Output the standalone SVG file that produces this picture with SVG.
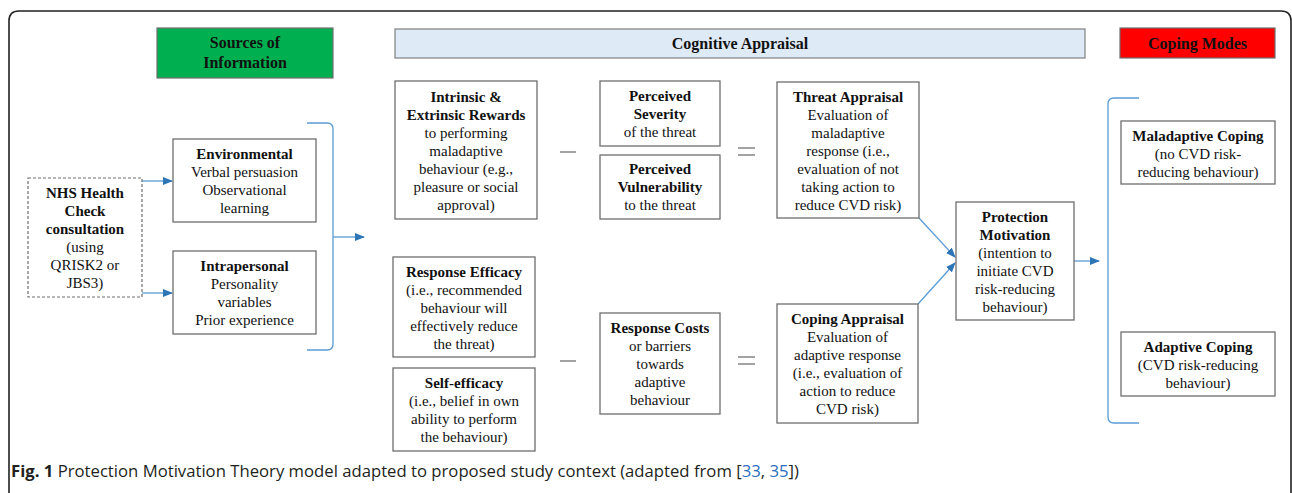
<svg xmlns="http://www.w3.org/2000/svg" width="1292" height="493" viewBox="0 0 1292 493">
<defs>
<marker id="ah" markerWidth="10" markerHeight="8" refX="9" refY="4" orient="auto" markerUnits="userSpaceOnUse">
<path d="M0,0 L10,4 L0,8 z" fill="#2E75B6"/>
</marker>
<style>
.box{fill:#fff;stroke:#6e6e6e;stroke-width:1.3}
.t{font-size:15px;fill:#111;text-anchor:middle}
.b{font-weight:bold}
.h{font-size:16px;font-weight:bold;fill:#111;text-anchor:middle}
.con{fill:none;stroke:#5B9BD5;stroke-width:1.3}
.op{stroke:#666;stroke-width:1.2}
.cap{font-size:16.7px;fill:#231f20}
</style>
</defs>
<rect width="1292" height="493" fill="#fff"/>
<path d="M9,493 V21 Q9,11 19,11 H1281 Q1291,11 1291,21 V493" fill="none" stroke="#222" stroke-width="1.6"/>

<g id="diagram" font-family="'Liberation Serif', 'DejaVu Serif', 'Times New Roman', serif">
<g id="hdr-sources">
<rect x="157" y="28" width="176" height="50" fill="#00B050" stroke="#6e6e6e" stroke-width="1.2"/>
<text class="h" x="245" y="48">Sources of</text>
<text class="h" x="245" y="68">Information</text>
</g>
<g id="hdr-cognitive">
<rect x="395" y="29" width="690" height="29" fill="#DEEAF6" stroke="#7f7f7f" stroke-width="1.2"/>
<text class="h" x="740" y="49">Cognitive Appraisal</text>
</g>
<g id="hdr-coping">
<rect x="1120" y="28" width="155" height="30" fill="#FF0000" stroke="#6e6e6e" stroke-width="1.2"/>
<text class="h" x="1197.5" y="49">Coping Modes</text>
</g>

<g id="connectors">
<line class="con" x1="142" y1="181" x2="172" y2="181" marker-end="url(#ah)"/>
<line class="con" x1="142" y1="293" x2="172" y2="293" marker-end="url(#ah)"/>
<path class="con" d="M307,123 H327 Q333,123 333,129 V344 Q333,350 327,350 H307"/>
<line class="con" x1="333" y1="237" x2="364" y2="237" marker-end="url(#ah)"/>
<line class="con" x1="919" y1="218" x2="955" y2="257" marker-end="url(#ah)"/>
<line class="con" x1="918" y1="304" x2="955" y2="263" marker-end="url(#ah)"/>
<line class="con" x1="1074" y1="261" x2="1099" y2="261" marker-end="url(#ah)"/>
<path class="con" d="M1139,98 H1114 Q1108,98 1108,104 V417 Q1108,423 1114,423 H1139"/>
<line class="op" x1="560" y1="152" x2="576" y2="152"/>
<line class="op" x1="738" y1="148" x2="755" y2="148"/>
<line class="op" x1="738" y1="155" x2="755" y2="155"/>
<line class="op" x1="560" y1="361" x2="576" y2="361"/>
<line class="op" x1="738" y1="357" x2="755" y2="357"/>
<line class="op" x1="738" y1="364" x2="755" y2="364"/>
</g>

<g id="nhs">
<rect x="28" y="178" width="114" height="119" fill="#fff" stroke="#6e6e6e" stroke-width="1.2" stroke-dasharray="3,2"/>
<text class="t b" x="85" y="198">NHS Health</text>
<text class="t b" x="85" y="216">Check</text>
<text class="t b" x="85" y="234">consultation</text>
<text class="t" x="85" y="252">(using</text>
<text class="t" x="85" y="270">QRISK2 or</text>
<text class="t" x="85" y="288">JBS3)</text>
</g>

<g id="environmental">
<rect class="box" x="173" y="139" width="143" height="83"/>
<text class="t b" x="244.5" y="159">Environmental</text>
<text class="t" x="244.5" y="177">Verbal persuasion</text>
<text class="t" x="244.5" y="195">Observational</text>
<text class="t" x="244.5" y="213">learning</text>
</g>

<g id="intrapersonal">
<rect class="box" x="173" y="251" width="143" height="83"/>
<text class="t b" x="244.5" y="271">Intrapersonal</text>
<text class="t" x="244.5" y="289">Personality</text>
<text class="t" x="244.5" y="307">variables</text>
<text class="t" x="244.5" y="325">Prior experience</text>
</g>

<g id="rewards">
<rect class="box" x="395" y="81" width="142" height="138"/>
<text class="t b" x="466" y="102">Intrinsic &amp;</text>
<text class="t b" x="466" y="120">Extrinsic Rewards</text>
<text class="t" x="466" y="138">to performing</text>
<text class="t" x="466" y="156">maladaptive</text>
<text class="t" x="466" y="174">behaviour (e.g.,</text>
<text class="t" x="466" y="192">pleasure or social</text>
<text class="t" x="466" y="210">approval)</text>
</g>

<g id="severity">
<rect class="box" x="600" y="81" width="120" height="65"/>
<text class="t b" x="660" y="101">Perceived</text>
<text class="t b" x="660" y="119">Severity</text>
<text class="t" x="660" y="137">of the threat</text>
</g>

<g id="vulnerability">
<rect class="box" x="600" y="155" width="120" height="64"/>
<text class="t b" x="660" y="174">Perceived</text>
<text class="t b" x="660" y="192">Vulnerability</text>
<text class="t" x="660" y="210">to the threat</text>
</g>

<g id="threat">
<rect class="box" x="777" y="82" width="142" height="136"/>
<text class="t b" x="848" y="102">Threat Appraisal</text>
<text class="t" x="848" y="120">Evaluation of</text>
<text class="t" x="848" y="138">maladaptive</text>
<text class="t" x="848" y="156">response (i.e.,</text>
<text class="t" x="848" y="174">evaluation of not</text>
<text class="t" x="848" y="192">taking action to</text>
<text class="t" x="848" y="210">reduce CVD risk)</text>
</g>

<g id="protection">
<rect class="box" x="956" y="202" width="118" height="118"/>
<text class="t b" x="1015" y="222">Protection</text>
<text class="t b" x="1015" y="240">Motivation</text>
<text class="t" x="1015" y="258">(intention to</text>
<text class="t" x="1015" y="276">initiate CVD</text>
<text class="t" x="1015" y="294">risk-reducing</text>
<text class="t" x="1015" y="312">behaviour)</text>
</g>

<g id="efficacy">
<rect class="box" x="393" y="257" width="142" height="100"/>
<text class="t b" x="464" y="277">Response Efficacy</text>
<text class="t" x="464" y="295">(i.e., recommended</text>
<text class="t" x="464" y="313">behaviour will</text>
<text class="t" x="464" y="331">effectively reduce</text>
<text class="t" x="464" y="349">the threat)</text>
</g>

<g id="selfefficacy">
<rect class="box" x="393" y="368" width="142" height="83"/>
<text class="t b" x="464" y="388">Self-efficacy</text>
<text class="t" x="464" y="406">(i.e., belief in own</text>
<text class="t" x="464" y="424">ability to perform</text>
<text class="t" x="464" y="442">the behaviour)</text>
</g>

<g id="costs">
<rect class="box" x="600" y="313" width="120" height="101"/>
<text class="t b" x="660" y="333">Response Costs</text>
<text class="t" x="660" y="351">or barriers</text>
<text class="t" x="660" y="369">towards</text>
<text class="t" x="660" y="387">adaptive</text>
<text class="t" x="660" y="405">behaviour</text>
</g>

<g id="copingappraisal">
<rect class="box" x="777" y="304" width="141" height="119"/>
<text class="t b" x="847.5" y="324">Coping Appraisal</text>
<text class="t" x="847.5" y="342">Evaluation of</text>
<text class="t" x="847.5" y="360">adaptive response</text>
<text class="t" x="847.5" y="378">(i.e., evaluation of</text>
<text class="t" x="847.5" y="396">action to reduce</text>
<text class="t" x="847.5" y="414">CVD risk)</text>
</g>

<g id="maladaptive">
<rect class="box" x="1121" y="121" width="154" height="63"/>
<text class="t b" x="1198" y="141">Maladaptive Coping</text>
<text class="t" x="1198" y="159">(no CVD risk-</text>
<text class="t" x="1198" y="177">reducing behaviour)</text>
</g>

<g id="adaptive">
<rect class="box" x="1121" y="332" width="154" height="64"/>
<text class="t b" x="1198" y="352">Adaptive Coping</text>
<text class="t" x="1198" y="370">(CVD risk-reducing</text>
<text class="t" x="1198" y="388">behaviour)</text>
</g>
</g>

<text class="cap" x="11" y="477" font-family="'Open Sans', sans-serif"><tspan font-weight="bold">Fig. 1</tspan> Protection Motivation Theory model adapted to proposed study context (adapted from [<tspan fill="#2a6ebb">33</tspan>, <tspan fill="#2a6ebb">35</tspan>])</text>
</svg>
